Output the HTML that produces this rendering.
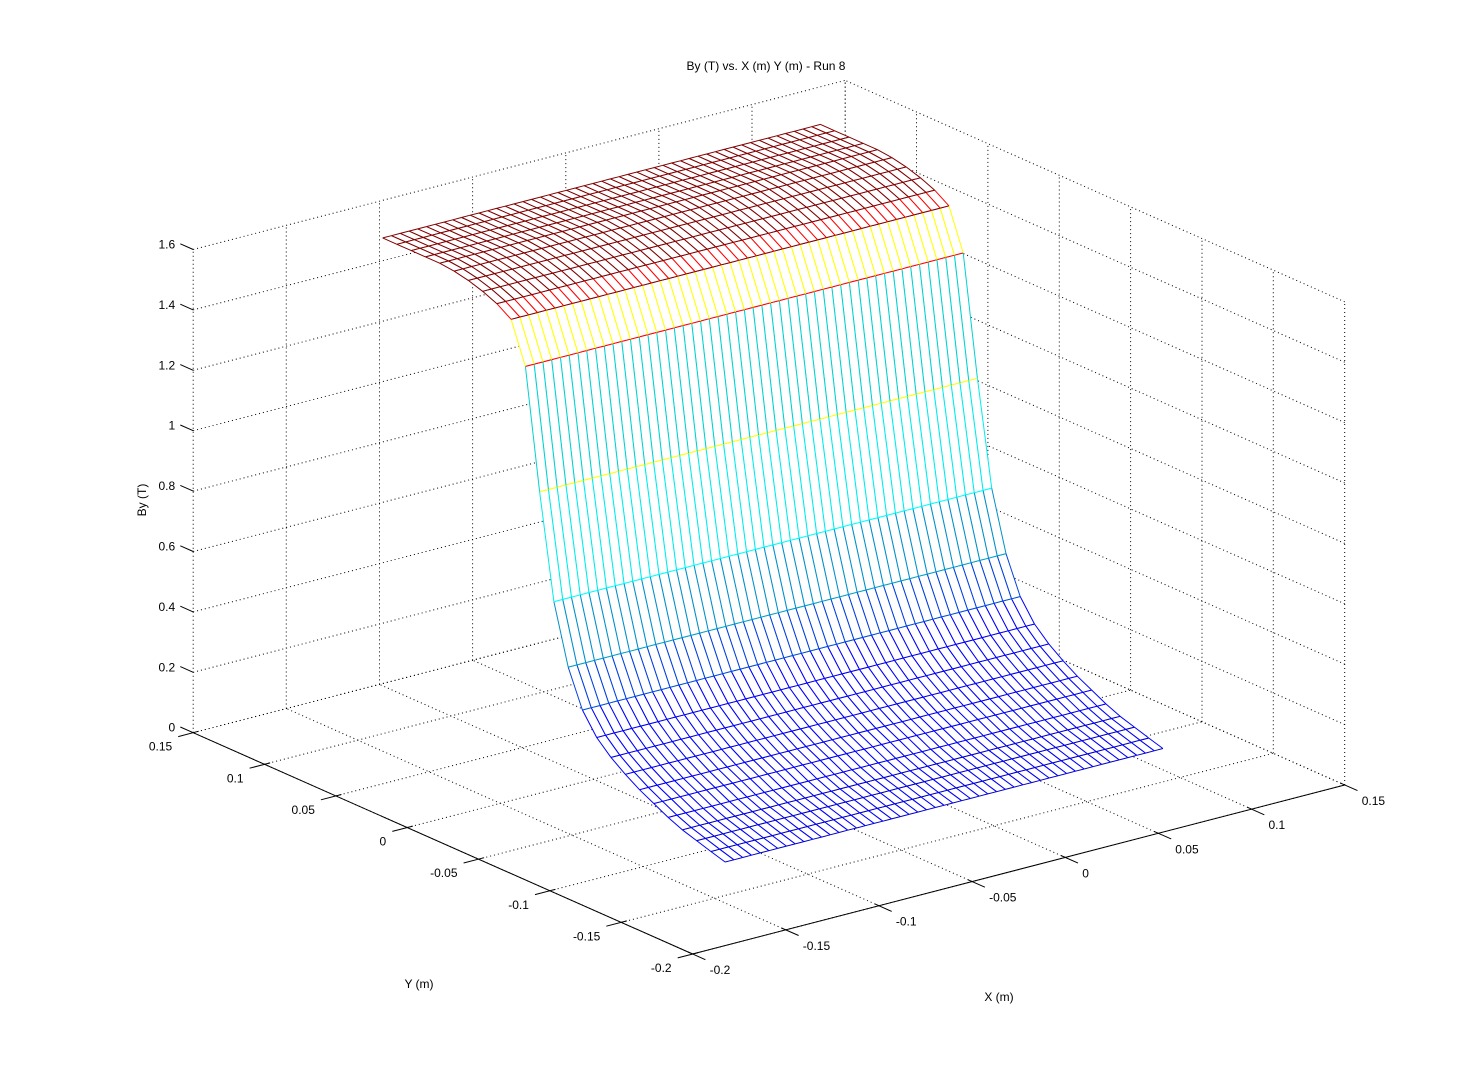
<!DOCTYPE html>
<html><head><meta charset="utf-8"><style>
html,body{margin:0;padding:0;background:#fff}
svg{display:block}
text{font-family:"Liberation Sans",sans-serif;font-size:12px;fill:#000}
</style></head><body>
<svg id="s" width="1484" height="1071" viewBox="0 0 1484 1071" xmlns="http://www.w3.org/2000/svg">
<rect width="1484" height="1071" fill="#fff"/>
<g id="grid" stroke="#000" stroke-width="1" stroke-dasharray="1,3" fill="none"></g>
<g id="axes" stroke="#000" stroke-width="1" fill="none"></g>
<g id="mesh" stroke-width="1"></g>
<g id="labels"></g>
<text x="766" y="70" text-anchor="middle">By (T) vs. X (m) Y (m) - Run 8</text>
<text x="419" y="988" text-anchor="middle">Y (m)</text>
<text x="999" y="1001" text-anchor="middle">X (m)</text>
<text x="0" y="0" text-anchor="middle" transform="translate(146,500) rotate(-90)">By (T)</text>
</svg>
<script>
(function(){
var NS="http://www.w3.org/2000/svg";
function P(x,y,z){var u=x+0.2,v=y+0.2;return [692.6+1863*u-1427*v, 954-483*u-632.3*v-302*z];}
function el(p,tag,a){var e=document.createElementNS(NS,tag);for(var k in a)e.setAttribute(k,a[k]);p.appendChild(e);return e;}
function line(g,a,b,c){var o={x1:a[0].toFixed(1),y1:a[1].toFixed(1),x2:b[0].toFixed(1),y2:b[1].toFixed(1)};if(c)o.stroke=c;return el(g,'line',o);}
var grid=document.getElementById('grid'),axes=document.getElementById('axes'),mesh=document.getElementById('mesh'),lab=document.getElementById('labels');
var ticks=[-0.2,-0.15,-0.1,-0.05,0,0.05,0.1,0.15];
var zt=[0,0.2,0.4,0.6,0.8,1,1.2,1.4,1.6];
ticks.forEach(function(t){line(grid,P(t,-0.2,0),P(t,0.15,0));line(grid,P(-0.2,t,0),P(0.15,t,0));});
ticks.forEach(function(t){line(grid,P(t,0.15,0),P(t,0.15,1.6));});
zt.forEach(function(z){line(grid,P(-0.2,0.15,z),P(0.15,0.15,z));line(grid,P(0.15,-0.2,z),P(0.15,0.15,z));});
ticks.forEach(function(t){line(grid,P(0.15,t,0),P(0.15,t,1.6));});
line(axes,P(-0.2,-0.2,0),P(0.15,-0.2,0));
line(axes,P(-0.2,-0.2,0),P(-0.2,0.15,0));
function lbl(x,y,s,anc){var t=el(lab,'text',{x:x.toFixed(1),y:y.toFixed(1)});if(anc)t.setAttribute('text-anchor',anc);t.textContent=s;}
function fmt(t){return (Math.round(t*100)/100).toString();}
ticks.forEach(function(t){
  var a=P(t,-0.2,0);line(axes,P(t,-0.197,0),P(t,-0.209,0));
  lbl(a[0]+17,a[1]+20,fmt(t));
  var b=P(-0.2,t,0);line(axes,P(-0.197,t,0),P(-0.208,t,0));
  lbl(b[0]-21,b[1]+18,fmt(t),'end');
});
zt.forEach(function(z){var a=P(-0.2,0.15,z);line(axes,a,P(-0.2,0.159,z));lbl(a[0]-18,a[1]-1,fmt(z),'end');});
var Z=[0.036,0.05,0.065,0.08,0.1,0.125,0.15,0.18,0.215,0.26,0.33,0.451,0.647,0.99,1.384,1.519,1.55,1.57,1.585,1.595,1.6,1.6,1.6,1.6,1.6];
var NY=Z.length, NX=50, x0=-0.127, x1=0.108, y0=-0.1275, dy=0.01;
function zf(i,k){return Z[k];}
function rowC(z){if(z>=1.5)return '#800000';if(z>=1.3)return '#ff0000';if(z>=0.9)return '#ffff00';if(z>=0.55)return '#00ffff';if(z>=0.4)return '#00a0c8';if(z>=0.3)return '#0050d8';if(z>=0.1)return '#0000f0';return '#0000c8';}
function colC(zl){if(zl>=1.54)return '#800000';if(zl>=1.45)return '#ff0000';if(zl>=1.3)return '#ffff00';if(zl>=0.9)return '#00d2d2';if(zl>=0.6)return '#00ecec';if(zl>=0.42)return '#0090cc';if(zl>=0.3)return '#0040e0';return '#0000ff';}
var V=[];for(var k=0;k<NY;k++){V[k]=[];for(var i=0;i<=NX;i++){var x=x0+(x1-x0)*i/NX,y=y0+dy*k,z=zf(i,k);V[k][i]={p:P(x,y,z),x:x,y:y,z:z};}}
var Q=[];
for(var k=0;k<NY-1;k++)for(var i=0;i<NX;i++){
  var a=V[k][i],c=V[k+1][i+1],b=V[k][i+1],d=V[k+1][i];
  var xc=(a.x+c.x)/2,yc=(a.y+c.y)/2,zc=(a.z+b.z+c.z+d.z)/4;
  Q.push({k:k,i:i,d:1427*xc+1863*yc-6183*zc});}
Q.sort(function(m,n){return n.d-m.d;});
Q.forEach(function(q){var k=q.k,i=q.i;var a=V[k][i],b=V[k][i+1],c=V[k+1][i+1],d=V[k+1][i];
  var g=el(mesh,'g',{});
  el(g,'polygon',{points:[a,b,c,d].map(function(v){return v.p[0].toFixed(1)+','+v.p[1].toFixed(1);}).join(' '),fill:'#fff',stroke:'none'});
  line(g,a.p,b.p,rowC(a.z));
  line(g,d.p,c.p,rowC(d.z));
  line(g,a.p,d.p,colC(Math.min(a.z,d.z)));
  line(g,b.p,c.p,colC(Math.min(b.z,c.z)));
});
})();
</script>
</body></html>
